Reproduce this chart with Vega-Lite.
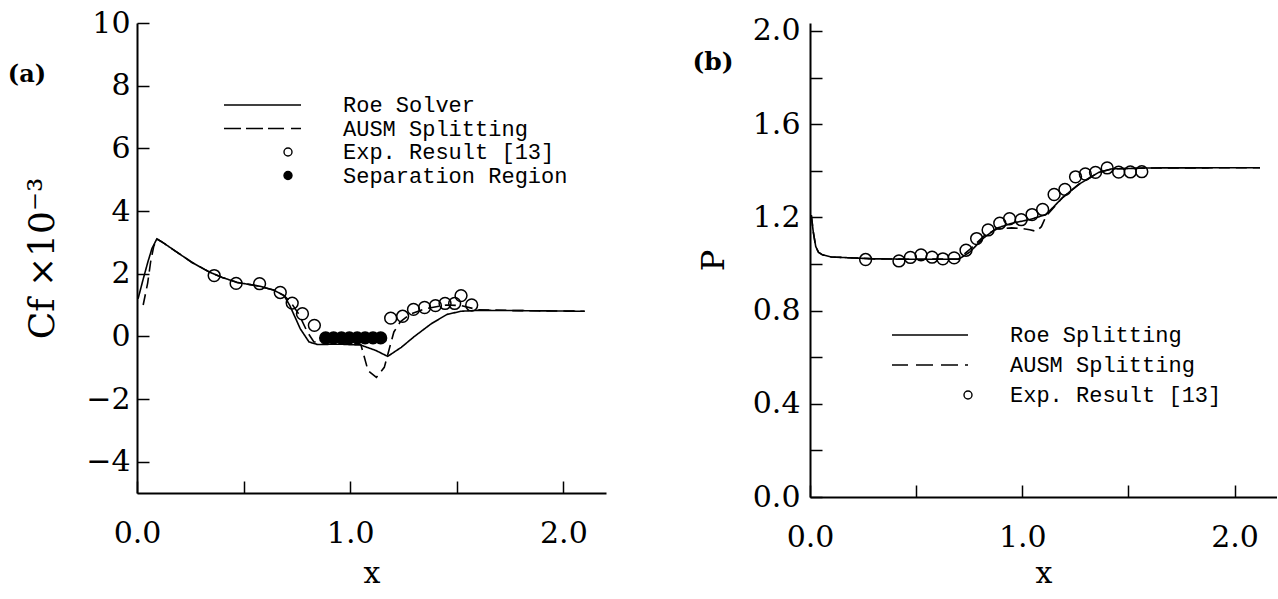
{
  "$schema": "https://vega.github.io/schema/vega-lite/v6.json",
  "background": "white",
  "padding": {"left": 7, "top": 8, "right": 0, "bottom": 0},
  "config": {
    "view": {"stroke": null},
    "axis": {
      "grid": false,
      "domainColor": "black",
      "domainWidth": 2,
      "tickColor": "black",
      "tickWidth": 1.5,
      "tickSize": -12,
      "labelFont": "DejaVu Serif",
      "labelFontSize": 30,
      "labelColor": "black",
      "labelFlush": false,
      "labelOverlap": false,
      "titleFont": "DejaVu Serif",
      "titleFontSize": 32,
      "titleFontWeight": "normal",
      "titleColor": "black"
    },
    "legend": {
      "title": null,
      "orient": "none",
      "direction": "vertical",
      "symbolSize": 64,
      "symbolStrokeWidth": 1.4,
      "labelFont": "Liberation Mono",
      "labelFontSize": 22,
      "labelColor": "black",
      "labelLimit": 500,
      "symbolOpacity": 1
    }
  },
  "datasets": {
    "cf_lines": [
      {"series": "Roe Solver", "x": 0.005, "cf": 1.2},
      {"series": "Roe Solver", "x": 0.03, "cf": 1.85},
      {"series": "Roe Solver", "x": 0.05, "cf": 2.35},
      {"series": "Roe Solver", "x": 0.07, "cf": 2.8},
      {"series": "Roe Solver", "x": 0.093, "cf": 3.11},
      {"series": "Roe Solver", "x": 0.12, "cf": 3.0},
      {"series": "Roe Solver", "x": 0.18, "cf": 2.72},
      {"series": "Roe Solver", "x": 0.26, "cf": 2.35},
      {"series": "Roe Solver", "x": 0.34, "cf": 2.05},
      {"series": "Roe Solver", "x": 0.4, "cf": 1.88},
      {"series": "Roe Solver", "x": 0.47, "cf": 1.72},
      {"series": "Roe Solver", "x": 0.575, "cf": 1.6},
      {"series": "Roe Solver", "x": 0.64, "cf": 1.48},
      {"series": "Roe Solver", "x": 0.69, "cf": 1.3},
      {"series": "Roe Solver", "x": 0.717, "cf": 0.98},
      {"series": "Roe Solver", "x": 0.766, "cf": 0.24},
      {"series": "Roe Solver", "x": 0.807, "cf": -0.18},
      {"series": "Roe Solver", "x": 0.846, "cf": -0.26},
      {"series": "Roe Solver", "x": 0.95, "cf": -0.25},
      {"series": "Roe Solver", "x": 1.05, "cf": -0.28},
      {"series": "Roe Solver", "x": 1.12, "cf": -0.45},
      {"series": "Roe Solver", "x": 1.176, "cf": -0.64},
      {"series": "Roe Solver", "x": 1.24, "cf": -0.35},
      {"series": "Roe Solver", "x": 1.3, "cf": -0.01},
      {"series": "Roe Solver", "x": 1.38, "cf": 0.4},
      {"series": "Roe Solver", "x": 1.454, "cf": 0.7},
      {"series": "Roe Solver", "x": 1.52, "cf": 0.8},
      {"series": "Roe Solver", "x": 1.6, "cf": 0.83},
      {"series": "Roe Solver", "x": 1.8, "cf": 0.82},
      {"series": "Roe Solver", "x": 2.1, "cf": 0.8},
      {"series": "AUSM Splitting", "x": 0.029, "cf": 1.0},
      {"series": "AUSM Splitting", "x": 0.05, "cf": 1.7},
      {"series": "AUSM Splitting", "x": 0.064, "cf": 2.38},
      {"series": "AUSM Splitting", "x": 0.078, "cf": 2.86},
      {"series": "AUSM Splitting", "x": 0.093, "cf": 3.11},
      {"series": "AUSM Splitting", "x": 0.12, "cf": 3.0},
      {"series": "AUSM Splitting", "x": 0.18, "cf": 2.72},
      {"series": "AUSM Splitting", "x": 0.26, "cf": 2.35},
      {"series": "AUSM Splitting", "x": 0.34, "cf": 2.05},
      {"series": "AUSM Splitting", "x": 0.4, "cf": 1.88},
      {"series": "AUSM Splitting", "x": 0.47, "cf": 1.72},
      {"series": "AUSM Splitting", "x": 0.575, "cf": 1.6},
      {"series": "AUSM Splitting", "x": 0.64, "cf": 1.48},
      {"series": "AUSM Splitting", "x": 0.69, "cf": 1.3},
      {"series": "AUSM Splitting", "x": 0.72, "cf": 1.1},
      {"series": "AUSM Splitting", "x": 0.76, "cf": 0.7},
      {"series": "AUSM Splitting", "x": 0.798, "cf": 0.15},
      {"series": "AUSM Splitting", "x": 0.83, "cf": -0.18},
      {"series": "AUSM Splitting", "x": 0.88, "cf": -0.2},
      {"series": "AUSM Splitting", "x": 0.95, "cf": -0.2},
      {"series": "AUSM Splitting", "x": 1.05, "cf": -0.26},
      {"series": "AUSM Splitting", "x": 1.084, "cf": -1.1},
      {"series": "AUSM Splitting", "x": 1.123, "cf": -1.31},
      {"series": "AUSM Splitting", "x": 1.16, "cf": -0.99},
      {"series": "AUSM Splitting", "x": 1.205, "cf": 0.14},
      {"series": "AUSM Splitting", "x": 1.235, "cf": 0.46},
      {"series": "AUSM Splitting", "x": 1.28, "cf": 0.7},
      {"series": "AUSM Splitting", "x": 1.35, "cf": 0.88},
      {"series": "AUSM Splitting", "x": 1.45, "cf": 1.0},
      {"series": "AUSM Splitting", "x": 1.52, "cf": 0.98},
      {"series": "AUSM Splitting", "x": 1.6, "cf": 0.85},
      {"series": "AUSM Splitting", "x": 1.8, "cf": 0.82},
      {"series": "AUSM Splitting", "x": 2.1, "cf": 0.8}
    ],
    "cf_points": [
      {"series": "Exp. Result [13]", "x": 0.362, "cf": 1.94},
      {"series": "Exp. Result [13]", "x": 0.465, "cf": 1.69},
      {"series": "Exp. Result [13]", "x": 0.575, "cf": 1.68},
      {"series": "Exp. Result [13]", "x": 0.672, "cf": 1.4},
      {"series": "Exp. Result [13]", "x": 0.728, "cf": 1.06},
      {"series": "Exp. Result [13]", "x": 0.776, "cf": 0.72},
      {"series": "Exp. Result [13]", "x": 0.832, "cf": 0.35},
      {"series": "Exp. Result [13]", "x": 1.19, "cf": 0.58},
      {"series": "Exp. Result [13]", "x": 1.246, "cf": 0.64},
      {"series": "Exp. Result [13]", "x": 1.297, "cf": 0.86},
      {"series": "Exp. Result [13]", "x": 1.349, "cf": 0.92},
      {"series": "Exp. Result [13]", "x": 1.4, "cf": 0.98},
      {"series": "Exp. Result [13]", "x": 1.445, "cf": 1.05},
      {"series": "Exp. Result [13]", "x": 1.49, "cf": 1.05},
      {"series": "Exp. Result [13]", "x": 1.52, "cf": 1.3},
      {"series": "Exp. Result [13]", "x": 1.57, "cf": 1.0},
      {"series": "Separation Region", "x": 0.885, "cf": -0.05},
      {"series": "Separation Region", "x": 0.922, "cf": -0.05},
      {"series": "Separation Region", "x": 0.959, "cf": -0.05},
      {"series": "Separation Region", "x": 0.996, "cf": -0.05},
      {"series": "Separation Region", "x": 1.033, "cf": -0.05},
      {"series": "Separation Region", "x": 1.07, "cf": -0.05},
      {"series": "Separation Region", "x": 1.107, "cf": -0.05},
      {"series": "Separation Region", "x": 1.143, "cf": -0.05}
    ],
    "p_lines": [
      {"series": "Roe Splitting", "x": 0.006, "p": 1.21},
      {"series": "Roe Splitting", "x": 0.015, "p": 1.14},
      {"series": "Roe Splitting", "x": 0.027, "p": 1.075},
      {"series": "Roe Splitting", "x": 0.04, "p": 1.05},
      {"series": "Roe Splitting", "x": 0.059, "p": 1.039},
      {"series": "Roe Splitting", "x": 0.1, "p": 1.03},
      {"series": "Roe Splitting", "x": 0.3, "p": 1.022},
      {"series": "Roe Splitting", "x": 0.5, "p": 1.02},
      {"series": "Roe Splitting", "x": 0.7, "p": 1.02},
      {"series": "Roe Splitting", "x": 0.754, "p": 1.052},
      {"series": "Roe Splitting", "x": 0.816, "p": 1.11},
      {"series": "Roe Splitting", "x": 0.878, "p": 1.153},
      {"series": "Roe Splitting", "x": 0.956, "p": 1.176},
      {"series": "Roe Splitting", "x": 1.034, "p": 1.19},
      {"series": "Roe Splitting", "x": 1.112, "p": 1.212},
      {"series": "Roe Splitting", "x": 1.19, "p": 1.285},
      {"series": "Roe Splitting", "x": 1.267, "p": 1.342},
      {"series": "Roe Splitting", "x": 1.36, "p": 1.393},
      {"series": "Roe Splitting", "x": 1.423, "p": 1.408},
      {"series": "Roe Splitting", "x": 1.6, "p": 1.412},
      {"series": "Roe Splitting", "x": 2.12, "p": 1.413},
      {"series": "AUSM Splitting", "x": 0.006, "p": 1.21},
      {"series": "AUSM Splitting", "x": 0.015, "p": 1.14},
      {"series": "AUSM Splitting", "x": 0.027, "p": 1.075},
      {"series": "AUSM Splitting", "x": 0.04, "p": 1.05},
      {"series": "AUSM Splitting", "x": 0.059, "p": 1.039},
      {"series": "AUSM Splitting", "x": 0.1, "p": 1.03},
      {"series": "AUSM Splitting", "x": 0.3, "p": 1.022},
      {"series": "AUSM Splitting", "x": 0.5, "p": 1.02},
      {"series": "AUSM Splitting", "x": 0.7, "p": 1.022},
      {"series": "AUSM Splitting", "x": 0.75, "p": 1.06},
      {"series": "AUSM Splitting", "x": 0.82, "p": 1.12},
      {"series": "AUSM Splitting", "x": 0.88, "p": 1.15},
      {"series": "AUSM Splitting", "x": 0.95, "p": 1.155},
      {"series": "AUSM Splitting", "x": 1.0, "p": 1.152},
      {"series": "AUSM Splitting", "x": 1.035, "p": 1.147},
      {"series": "AUSM Splitting", "x": 1.066, "p": 1.14},
      {"series": "AUSM Splitting", "x": 1.09, "p": 1.16},
      {"series": "AUSM Splitting", "x": 1.112, "p": 1.205},
      {"series": "AUSM Splitting", "x": 1.19, "p": 1.285},
      {"series": "AUSM Splitting", "x": 1.267, "p": 1.342},
      {"series": "AUSM Splitting", "x": 1.36, "p": 1.393},
      {"series": "AUSM Splitting", "x": 1.423, "p": 1.408},
      {"series": "AUSM Splitting", "x": 1.6, "p": 1.412},
      {"series": "AUSM Splitting", "x": 2.12, "p": 1.413}
    ],
    "p_points": [
      {"series": "Exp. Result [13]", "x": 0.262, "p": 1.019},
      {"series": "Exp. Result [13]", "x": 0.419, "p": 1.013},
      {"series": "Exp. Result [13]", "x": 0.473, "p": 1.028},
      {"series": "Exp. Result [13]", "x": 0.523, "p": 1.039},
      {"series": "Exp. Result [13]", "x": 0.575, "p": 1.029},
      {"series": "Exp. Result [13]", "x": 0.626, "p": 1.022},
      {"series": "Exp. Result [13]", "x": 0.679, "p": 1.026},
      {"series": "Exp. Result [13]", "x": 0.735, "p": 1.059},
      {"series": "Exp. Result [13]", "x": 0.785, "p": 1.109},
      {"series": "Exp. Result [13]", "x": 0.839, "p": 1.146},
      {"series": "Exp. Result [13]", "x": 0.894, "p": 1.175},
      {"series": "Exp. Result [13]", "x": 0.94, "p": 1.194},
      {"series": "Exp. Result [13]", "x": 0.995, "p": 1.19},
      {"series": "Exp. Result [13]", "x": 1.046, "p": 1.212},
      {"series": "Exp. Result [13]", "x": 1.096, "p": 1.234},
      {"series": "Exp. Result [13]", "x": 1.15, "p": 1.298},
      {"series": "Exp. Result [13]", "x": 1.201, "p": 1.32},
      {"series": "Exp. Result [13]", "x": 1.251, "p": 1.374},
      {"series": "Exp. Result [13]", "x": 1.297, "p": 1.386},
      {"series": "Exp. Result [13]", "x": 1.345, "p": 1.393},
      {"series": "Exp. Result [13]", "x": 1.4, "p": 1.412},
      {"series": "Exp. Result [13]", "x": 1.454, "p": 1.394},
      {"series": "Exp. Result [13]", "x": 1.509, "p": 1.395},
      {"series": "Exp. Result [13]", "x": 1.563, "p": 1.396}
    ]
  },
  "hconcat": [
    {
      "width": 469,
      "height": 470,
      "layer": [
        {
          "data": {"name": "cf_lines"},
          "mark": {"type": "line", "color": "black", "strokeWidth": 1.6},
          "encoding": {
            "x": {
              "field": "x", "type": "quantitative",
              "scale": {"domain": [0, 2.2], "nice": false, "zero": false},
              "axis": {
                "title": "x",
                "titleFontSize": 30,
                "values": [0, 0.5, 1, 1.5, 2],
                "labelExpr": "round(datum.value*2)%2==0 ? format(datum.value,'.1f') : ''",
                "labelPadding": 37,
                "titlePadding": 10
              }
            },
            "y": {
              "field": "cf", "type": "quantitative",
              "scale": {"domain": [-5, 10], "nice": false, "zero": false},
              "axis": {
                "title": "Cf ×10⁻³",
                "titleFontSize": 36,
                "values": [-4, -2, 0, 2, 4, 6, 8, 10],
                "format": "d",
                "labelPadding": 19,
                "titlePadding": 24
              }
            },
            "strokeDash": {
              "field": "series", "type": "nominal",
              "scale": {"domain": ["Roe Solver", "AUSM Splitting"], "range": [[1, 0], [11, 6]]},
              "legend": null
            }
          }
        },
        {
          "data": {"name": "cf_points"},
          "mark": {"type": "point", "filled": true, "strokeWidth": 1.5, "size": 140, "opacity": 1, "fillOpacity": 1, "strokeOpacity": 1},
          "encoding": {
            "x": {"field": "x", "type": "quantitative"},
            "y": {"field": "cf", "type": "quantitative"},
            "shape": {
              "field": "series", "type": "nominal",
              "scale": {
                "domain": ["Roe Solver", "AUSM Splitting", "Exp. Result [13]", "Separation Region"],
                "range": ["M-16,0H3.25", "M-16,0H-11.75M-10.5,0H-6.25M-5,0H-1M0.75,0H3.25", "circle", "circle"]
              },
              "legend": {"legendX": 140, "legendY": 71, "labelOffset": 44, "rowPadding": 1.5}
            },
            "fill": {
              "field": "series", "type": "nominal",
              "scale": {
                "domain": ["Roe Solver", "AUSM Splitting", "Exp. Result [13]", "Separation Region"],
                "range": ["transparent", "transparent", "transparent", "black"]
              },
              "legend": {"legendX": 140, "legendY": 71, "labelOffset": 44, "rowPadding": 1.5}
            },
            "stroke": {
              "field": "series", "type": "nominal",
              "scale": {
                "domain": ["Roe Solver", "AUSM Splitting", "Exp. Result [13]", "Separation Region"],
                "range": ["black", "black", "black", "black"]
              },
              "legend": {"legendX": 140, "legendY": 71, "labelOffset": 44, "rowPadding": 1.5}
            }
          }
        },
        {
          "data": {"values": [{"t": "(a)"}]},
          "mark": {"type": "text", "font": "DejaVu Serif", "fontSize": 24, "fontWeight": "bold", "align": "center", "baseline": "middle", "color": "black"},
          "encoding": {
            "x": {"datum": -0.516, "type": "quantitative"},
            "y": {"datum": 8.35, "type": "quantitative"},
            "text": {"field": "t"}
          }
        }
      ]
    },
    {
      "width": 467,
      "height": 474,
      "layer": [
        {
          "data": {"name": "p_lines"},
          "mark": {"type": "line", "color": "black", "strokeWidth": 1.6},
          "encoding": {
            "x": {
              "field": "x", "type": "quantitative",
              "scale": {"domain": [0, 2.2], "nice": false, "zero": false},
              "axis": {
                "title": "x",
                "titleFontSize": 30,
                "values": [0, 0.5, 1, 1.5, 2],
                "labelExpr": "round(datum.value*2)%2==0 ? format(datum.value,'.1f') : ''",
                "labelPadding": 37,
                "titlePadding": 6
              }
            },
            "y": {
              "field": "p", "type": "quantitative",
              "scale": {"domain": [0, 2.034], "nice": false, "zero": false},
              "axis": {
                "title": "P",
                "values": [0, 0.2, 0.4, 0.6, 0.8, 1.0, 1.2, 1.4, 1.6, 1.8, 2.0],
                "labelExpr": "round(datum.value*10)%4==0 ? format(datum.value,'.1f') : ''",
                "labelPadding": 22,
                "titlePadding": 22
              }
            },
            "strokeDash": {
              "field": "series", "type": "nominal",
              "scale": {"domain": ["Roe Splitting", "AUSM Splitting"], "range": [[1, 0], [11, 6]]},
              "legend": null
            }
          }
        },
        {
          "data": {"name": "p_points"},
          "mark": {"type": "point", "filled": true, "strokeWidth": 1.5, "size": 140, "opacity": 1, "fillOpacity": 1, "strokeOpacity": 1},
          "encoding": {
            "x": {"field": "x", "type": "quantitative"},
            "y": {"field": "p", "type": "quantitative"},
            "shape": {
              "field": "series", "type": "nominal",
              "scale": {
                "domain": ["Roe Splitting", "AUSM Splitting", "Exp. Result [13]"],
                "range": ["M-19,0H0", "M-19,0H-15M-13,0H-8.75M-6.75,0H-2.5M-0.75,0H0", "circle"]
              },
              "legend": {"legendX": 147, "legendY": 301, "labelOffset": 31, "rowPadding": 8}
            },
            "fill": {
              "field": "series", "type": "nominal",
              "scale": {
                "domain": ["Roe Splitting", "AUSM Splitting", "Exp. Result [13]"],
                "range": ["transparent", "transparent", "transparent"]
              },
              "legend": {"legendX": 147, "legendY": 301, "labelOffset": 31, "rowPadding": 8}
            },
            "stroke": {
              "field": "series", "type": "nominal",
              "scale": {
                "domain": ["Roe Splitting", "AUSM Splitting", "Exp. Result [13]"],
                "range": ["black", "black", "black"]
              },
              "legend": {"legendX": 147, "legendY": 301, "labelOffset": 31, "rowPadding": 8}
            }
          }
        },
        {
          "data": {"values": [{"t": "(b)"}]},
          "mark": {"type": "text", "font": "DejaVu Serif", "fontSize": 25, "fontWeight": "bold", "align": "center", "baseline": "middle", "color": "black"},
          "encoding": {
            "x": {"datum": -0.457, "type": "quantitative"},
            "y": {"datum": 1.867, "type": "quantitative"},
            "text": {"field": "t"}
          }
        }
      ]
    }
  ],
  "spacing": 204,
  "bounds": "flush",
  "resolve": {
    "scale": {"x": "independent", "y": "independent", "shape": "independent", "fill": "independent", "stroke": "independent", "strokeDash": "independent"},
    "legend": {"shape": "independent", "fill": "independent", "stroke": "independent"}
  }
}
